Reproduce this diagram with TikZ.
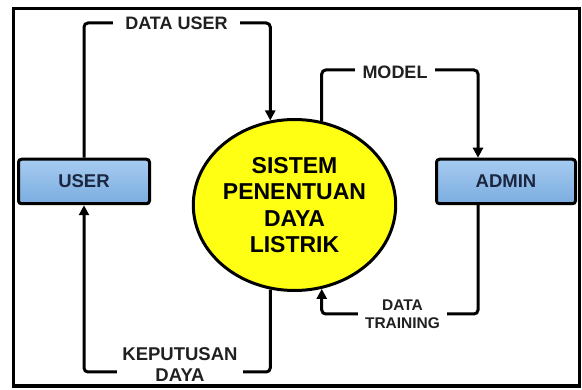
\documentclass[tikz,border=0pt]{standalone}
\usepackage{fontspec}
\setmainfont{Liberation Sans}
\usetikzlibrary{shapes.geometric,arrows.meta}
\definecolor{boxtop}{HTML}{A6CBF0}
\definecolor{boxbot}{HTML}{7BADE0}
\definecolor{boxtext}{HTML}{1B2740}
\definecolor{sysyellow}{HTML}{FFFF14}
\definecolor{labtext}{HTML}{202020}
\begin{document}
\begin{tikzpicture}[x=1pt,y=-1pt,
  box/.style={draw=black, line width=3pt, rounded corners=3pt, top color=boxtop, bottom color=boxbot,
    minimum height=44.5pt, inner sep=0pt, text=boxtext, font=\fontsize{18.5}{20}\selectfont\bfseries},
  sysnode/.style={ellipse, draw=black, line width=3pt, fill=sysyellow, minimum width=184pt, minimum height=171pt,
    inner sep=0pt, align=center, font=\fontsize{23}{26.3}\selectfont\bfseries},
  flow/.style={line width=3pt, rounded corners=4pt, -{Triangle[length=10pt,width=10pt]}},
  lab/.style={fill=white, inner ysep=1pt, text=labtext, align=center}
]
\useasboundingbox (0,0) rectangle (582,390);
\fill[white] (0,0) rectangle (582,390);
\draw[line width=3.5pt] (13.5,8.5) rectangle (579.5,386);

\node[box, minimum width=131pt] (user) at (84,181.5) {USER};
\node[box, minimum width=139pt] (admin) at (506,181.5) {ADMIN};
\node[sysnode] (sys) at (294.5,205) {SISTEM\\PENENTUAN\\DAYA\\LISTRIK};

\coordinate (du) at (177,23);
\coordinate (ml) at (395,70);
\coordinate (dt) at (403,314);
\coordinate (kp) at (177,372);

\draw[flow] (user.north) |- (du) -| (sys.106);
\draw[flow] (sys.72) |- (ml) -| ([xshift=-28pt]admin.north);
\draw[flow] ([xshift=-28pt]admin.south) |- (dt) -| (sys.-72);
\draw[flow] (sys.-106) |- (kp) -| (user.south);

\node[lab, inner xsep=12pt, font=\fontsize{18}{20}\selectfont\bfseries] (ldu) at (176.5,23) {DATA USER};
\node[lab, inner xsep=8pt, font=\fontsize{18}{20}\selectfont\bfseries] (lml) at (395,72) {MODEL};
\node[lab, inner xsep=7pt, font=\fontsize{15.5}{18}\selectfont\bfseries] (ldt) at (402.5,314) {DATA\\TRAINING};
\node[lab, inner xsep=5pt, font=\fontsize{18.5}{21}\selectfont\bfseries] (lkp) at (180,364.5) {KEPUTUSAN\\DAYA};
\end{tikzpicture}
\end{document}
